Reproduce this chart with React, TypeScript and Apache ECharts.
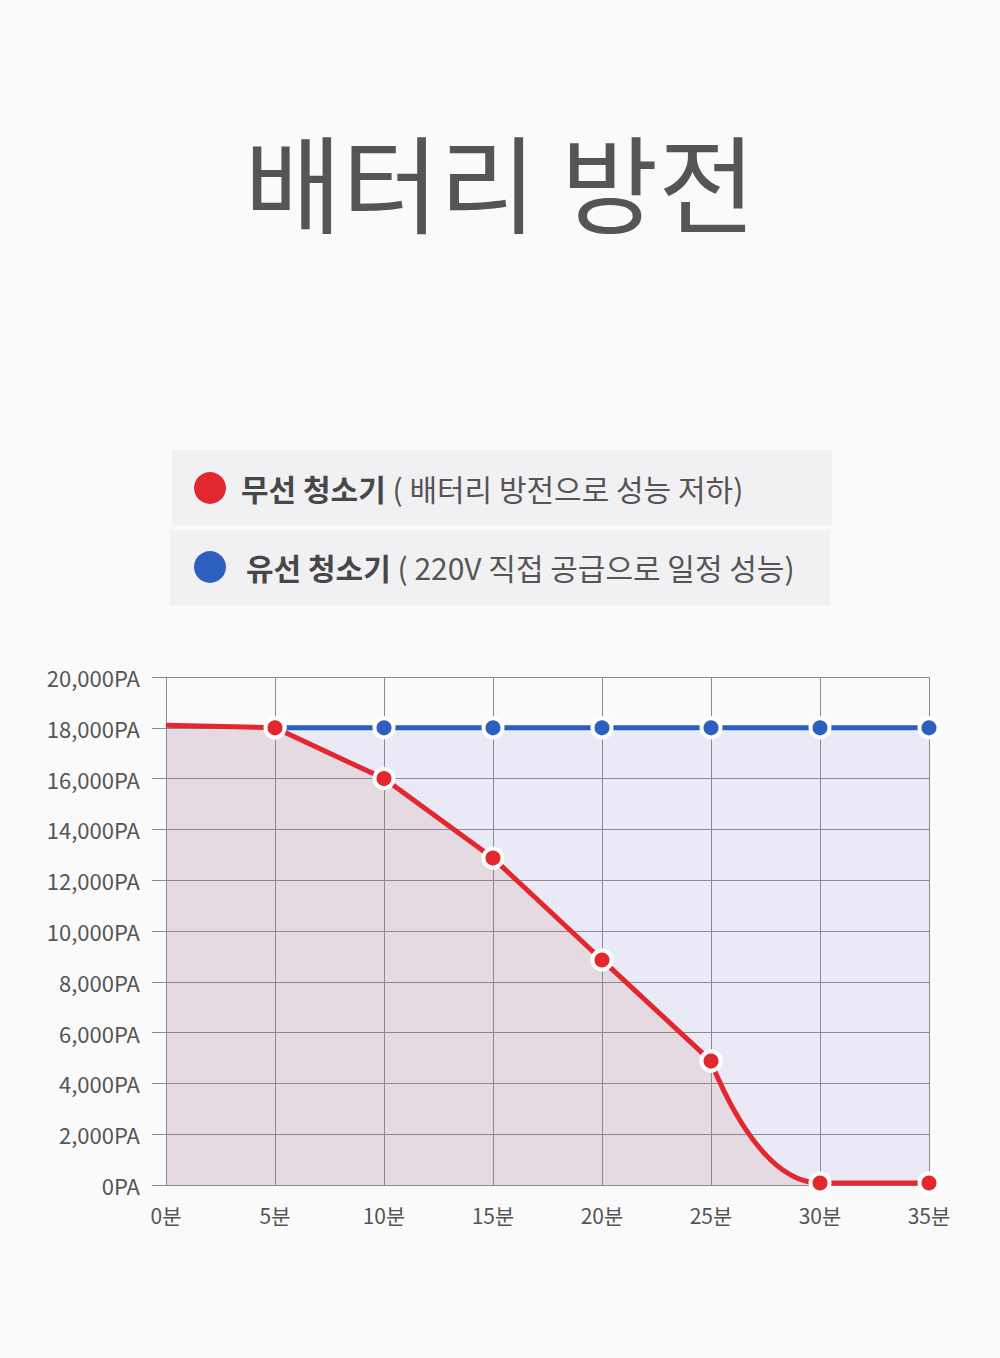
import React, { useEffect, useRef } from "react";
import * as echarts from "echarts";

const categories = ["0분", "5분", "10분", "15분", "20분", "25분", "30분", "35분"];
const wirelessValues = [18100, 18000, 16000, 12870, 8860, 4880, 80, 80];
const wiredValues: (number | string)[] = ["-", 18000, 18000, 18000, 18000, 18000, 18000, 18000];
const yTicks = { min: 0, max: 20000, interval: 2000 };

const titleText = "배터리 방전";
const legendRed = { bold: "무선 청소기", normal: "( 배터리 방전으로 성능 저하)" };
const legendBlue = { bold: "유선 청소기", normal: "( 220V 직접 공급으로 일정 성능)" };

const RED = "#e3272f";
const BLUE = "#2d5fc0";
const GRID = "#8e8893";
const TEXT = "#555555";
const FONT = "'Noto Sans CJK KR', 'Noto Sans', sans-serif";
// index where the red line turns from straight segments into a curve
const CURVE_FROM = 5;

export default function App() {
  const ref = useRef<HTMLDivElement>(null);
  useEffect(() => {
    document.body.style.margin = "0";
    const chart = echarts.init(ref.current!, null, { renderer: "svg" });
    const markerStyle = (c: string) => ({ color: c, borderColor: "#ffffff", borderWidth: 4 });
    const straightPart = wirelessValues.map((v, i) => (i <= CURVE_FROM ? v : "-"));
    const curvedPart = wirelessValues.map((v, i) => (i >= CURVE_FROM ? v : "-"));
    const redArea = (data: (number | string)[], smooth: boolean | number, z: number) => ({
      type: "line",
      data,
      smooth,
      z,
      symbol: "none",
      lineStyle: { width: 0 },
      areaStyle: { color: "#e5d9e2", opacity: 1 },
      silent: true,
    });
    const redLine = (data: any[], smooth: boolean | number, z: number) => ({
      type: "line",
      name: "무선 청소기",
      data,
      smooth,
      z,
      symbol: "circle",
      symbolSize: 19,
      showAllSymbol: true,
      lineStyle: { color: RED, width: 5 },
      itemStyle: markerStyle(RED),
    });
    chart.setOption({
      animation: false,
      backgroundColor: "#fafafa",
      textStyle: { fontFamily: FONT },
      grid: { left: 166, right: 71, top: 677, bottom: 173 },
      xAxis: {
        type: "category",
        data: categories,
        boundaryGap: false,
        z: 3,
        axisLine: { show: true, lineStyle: { color: GRID, width: 1 } },
        axisTick: { show: false },
        splitLine: { show: true, lineStyle: { color: GRID, width: 1 } },
        axisLabel: { color: TEXT, fontSize: 21, margin: 19, fontFamily: FONT },
      },
      yAxis: {
        type: "value",
        min: yTicks.min,
        max: yTicks.max,
        interval: yTicks.interval,
        z: 3,
        axisLine: { show: true, lineStyle: { color: GRID, width: 1 } },
        axisTick: { show: true, length: 14, lineStyle: { color: GRID, width: 1 } },
        splitLine: { show: true, lineStyle: { color: GRID, width: 1 } },
        axisLabel: {
          color: TEXT,
          fontSize: 22,
          margin: 26,
          fontFamily: FONT,
          formatter: (v: number) => v.toLocaleString("en-US") + "PA",
        },
      },
      series: [
        {
          type: "line",
          name: "wired-area",
          data: wiredValues,
          z: 1,
          symbol: "none",
          lineStyle: { width: 0 },
          areaStyle: { color: "#e9eaf6", opacity: 1 },
          silent: true,
        },
        redArea(straightPart, false, 2),
        redArea(curvedPart, 0.5, 2),
        {
          type: "line",
          name: "유선 청소기",
          data: wiredValues,
          z: 4,
          symbol: "circle",
          symbolSize: 19,
          showAllSymbol: true,
          lineStyle: { color: BLUE, width: 5 },
          itemStyle: markerStyle(BLUE),
        },
        redLine(
          straightPart.map((v, i) => (i === 0 ? { value: v, symbol: "none" } : v)),
          false,
          5
        ),
        redLine(curvedPart, 0.5, 5),
      ],
      graphic: [
        {
          type: "text",
          x: 500,
          y: 179,
          style: {
            text: titleText,
            fill: TEXT,
            fontSize: 106,
            fontFamily: FONT,
            fontWeight: 400,
            align: "center",
            verticalAlign: "middle",
          },
        },
        { type: "rect", shape: { x: 172, y: 450, width: 660, height: 75 }, style: { fill: "#f1f1f4" } },
        { type: "rect", shape: { x: 170, y: 530, width: 660, height: 75 }, style: { fill: "#f1f1f4" } },
        { type: "circle", shape: { cx: 210, cy: 488, r: 16 }, style: { fill: RED } },
        { type: "circle", shape: { cx: 210, cy: 567, r: 16 }, style: { fill: BLUE } },
        {
          type: "text",
          x: 241,
          y: 488,
          style: {
            text: `{b|${legendRed.bold}} {n|${legendRed.normal}}`,
            verticalAlign: "middle",
            rich: {
              b: { fontSize: 30, fontWeight: "bold", fill: "#474747", fontFamily: FONT },
              n: { fontSize: 30, fontWeight: 400, fill: TEXT, fontFamily: FONT },
            },
            fontSize: 30,
            fontFamily: FONT,
          },
        },
        {
          type: "text",
          x: 246,
          y: 567,
          style: {
            text: `{b|${legendBlue.bold}} {n|${legendBlue.normal}}`,
            verticalAlign: "middle",
            rich: {
              b: { fontSize: 30, fontWeight: "bold", fill: "#474747", fontFamily: FONT },
              n: { fontSize: 30, fontWeight: 400, fill: TEXT, fontFamily: FONT },
            },
            fontSize: 30,
            fontFamily: FONT,
          },
        },
      ],
    });
    return () => chart.dispose();
  }, []);
  return <div ref={ref} style={{ width: 1000, height: 1358 }} />;
}
